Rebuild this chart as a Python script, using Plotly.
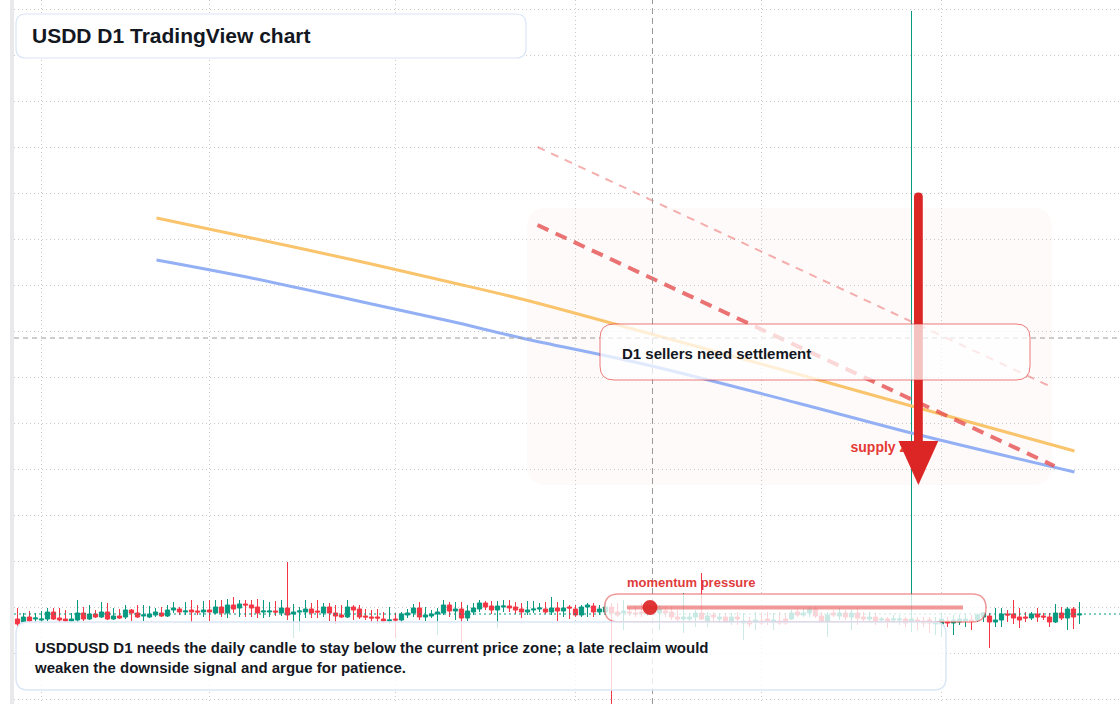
import pandas as pd
import plotly.graph_objects as go

# ---------------- data ----------------
first_day = "2025-01-28"
peg = 1.0
# daily OHLC expressed as deviation from the $1 peg, in basis points
open_bp = [-12, -15, -10, -12, -13, -12, -5, -11, -12, -14,
           -13, -6, -12, -7, -10, -5, -12, -9, -10, -3,
           -6, -9, -10, -8, -6, -9, -3, -2, -5, -3,
           -4, -5, -3, -6, 0, -6, 2, -1, 3, 2,
           0, -5, -5, -4, -6, -1, -7, -5, -5, -2,
           -4, -6, 0, -6, -8, -10, 0, -2, -9, -10,
           -10, -12, -14, -12, -13, -8, -6, -1, -10, -9,
           -7, -6, 2, -4, -2, -11, -5, -2, 4, 1,
           -3, 0, 1, 0, -2, -5, -3, -2, -2, -5,
           -1, -4, 0, -2, -8, 0, 1, -5, -5, 0,
           -5, -6, -5, -6, -5, -5, -3, -6, -4, -5,
           -10, -12, -12, -10, -6, -14, -8, -12, -10, -15,
           -10, -16, -14, -15, -14, -12, -15, -14, -12, -12,
           -5, -8, -6, -2, -9, -14, -6, -9, -6, -10,
           -6, -10, -12, -10, -13, -12, -13, -13, -12, -14,
           -13, -14, -13, -17, -17, -14, -16, -15, -14, -13,
           -13, -10, -9, -15, -13, -7, -7, -10, -10, -11,
           -7, -9, -10, -15, -6, -11, -2, -8]
high_bp = [-1, -6, -4, -6, -4, -1, -1, -1, -3, -6,
           7, 0, 2, -3, 5, 4, -1, -2, 2, -2,
           2, 2, 1, -1, 0, 2, 5, 0, 5, 7,
           2, 6, 7, 7, 7, 8, 10, 7, 7, 7,
           8, 7, 5, 6, 7, 45, 3, 0, 7, 4,
           7, 4, 4, 2, 2, 7, 2, 2, -2, -3,
           -2, -5, 0, -6, -5, -2, 3, 5, 0, -3,
           -1, 7, 5, 5, 5, 2, 4, 7, 6, 6,
           6, 7, 7, 5, 4, 6, 6, 4, 5, 10,
           5, 7, 2, 2, 2, 4, 4, 2, 4, 4,
           4, 7, 0, 1, 4, 3, 2, 2, 1, 0,
           -3, 14, -6, -3, 34, -5, -5, -6, -6, -6,
           -5, -6, -10, -5, -6, -5, -6, -5, -6, -3,
           -1, -1, 0, 0, -5, -5, -3, -1, -3, -2,
           -1, -5, -5, -6, -10, -10, -8, -8, -10, 596,
           -10, -10, -10, -10, -6, -10, -8, -8, -6, -8,
           -6, -5, -6, -1, -1, -3, 7, -1, -5, -5,
           -1, -6, -6, 3, 0, 0, 0, 5]
low_bp = [-21, -16, -15, -15, -15, -14, -13, -15, -15, -15,
          -15, -14, -13, -11, -11, -13, -13, -12, -12, -14,
          -11, -14, -11, -10, -10, -10, -6, -8, -8, -16,
          -8, -10, -14, -7, -10, -11, -6, -10, -10, -10,
          -11, -11, -10, -9, -9, -13, -31, -24, -11, -11,
          -11, -10, -14, -17, -11, -11, -13, -12, -13, -15,
          -17, -16, -17, -31, -15, -11, -10, -13, -14, -11,
          -28, -8, -10, -13, -36, -14, -8, -5, -3, -7,
          -21, -5, -5, -7, -11, -8, -6, -5, -7, -8,
          -14, -10, -12, -10, -10, -10, -10, -8, -8, -105,
          -10, -23, -9, -10, -10, -9, -8, -23, -10, -13,
          -15, -26, -15, -20, -13, -20, -15, -16, -16, -18,
          -18, -33, -20, -23, -18, -18, -23, -18, -18, -13,
          -10, -10, -10, -11, -16, -30, -10, -13, -13, -23,
          -18, -15, -15, -18, -16, -21, -15, -18, -20, -25,
          -23, -20, -26, -28, -30, -20, -28, -18, -20, -23,
          -15, -15, -41, -20, -20, -15, -17, -21, -15, -13,
          -15, -13, -20, -16, -13, -23, -22, -17]
close_bp = [-17, -10, -14, -11, -12, -5, -12, -13, -14, -12,
            -6, -12, -7, -10, -5, -12, -9, -11, -3, -6,
            -10, -8, -7, -5, -9, -3, -1, -5, -4, -5,
            -5, -3, -5, 0, -6, 2, -2, 3, 2, -1,
            -6, -4, -4, -5, -1, -8, -5, -4, -2, -6,
            -5, 0, -6, -9, -10, 0, -3, -10, -10, -11,
            -11, -14, -13, -13, -7, -6, -1, -10, -8, -7,
            -5, 2, -4, -2, -11, -4, -1, 4, 0, -3,
            1, 1, -1, -3, -5, -3, -2, -1, -5, -1,
            -4, -1, -1, -8, 0, 2, -5, -2, 0, -6,
            -8, -4, -6, -7, -6, -3, -5, -2, -6, -10,
            -12, -10, -10, -6, -12, -9, -10, -10, -15, -10,
            -12, -14, -17, -13, -16, -14, -13, -16, -16, -6,
            -8, -6, -2, -9, -14, -8, -8, -6, -10, -6,
            -11, -12, -10, -14, -12, -14, -12, -12, -16, -12,
            -14, -16, -16, -15, -12, -16, -13, -12, -12, -14,
            -8, -6, -15, -13, -7, -8, -11, -13, -11, -7,
            -10, -10, -15, -6, -11, -2, -10, -7]

# moving-average style overlays
ma_dates = ["2025-02-20 04:00", "2025-03-08", "2025-03-25", "2025-04-10", "2025-04-22",
            "2025-05-13", "2025-06-07", "2025-06-26", "2025-07-23 04:00"]
ma_fast = [1.0389, 1.0369, 1.0347, 1.0325, 1.0308, 1.0274, 1.0233, 1.0201, 1.0156]
ma_slow = [1.0347, 1.0329, 1.0307, 1.0286, 1.0269, 1.0242, 1.0204, 1.0174, 1.0135]

# descending trendlines
trend_main_dates = ["2025-04-24 16:00", "2025-07-19 20:00"]
trend_main = [1.0382, 1.0141]
trend_outer_dates = ["2025-04-24 16:00", "2025-07-19 08:00"]
trend_outer = [1.0460, 1.0220]

crosshair_time = "2025-05-13 20:00"
crosshair_price = 1.0269
supply_label_time = "2025-06-15 20:00"
supply_label_price = 1.0159

x_range = ["2025-01-27 10:00", "2025-07-30 18:00"]
y_range = [0.9903, 1.0607]

title_text = "USDD D1 TradingView chart"
callout_text = "D1 sellers need settlement"
momentum_text = "momentum pressure"
supply_text = "supply zone"
note_text = ("USDDUSD D1 needs the daily candle to stay below the current price zone; a late reclaim would"
             "<br>weaken the downside signal and argue for patience.")

# ---------------- helpers ----------------
W, H = 1120, 704
ML = 14
FONT = "Liberation Sans, Arial, sans-serif"
DARK = "#131722"
UP = "#089981"
DOWN = "#f23645"
GRID = "#c9c9c9"


def px(x):
    return (x - ML) / (W - ML)


def py(y):
    return 1 - y / H


def pt(x, y):
    return f"{px(x):.5f},{py(y):.5f}"


def rrect(x0, y0, x1, y1, r):
    return (f"M {pt(x0 + r, y0)} L {pt(x1 - r, y0)} Q {pt(x1, y0)} {pt(x1, y0 + r)} "
            f"L {pt(x1, y1 - r)} Q {pt(x1, y1)} {pt(x1 - r, y1)} "
            f"L {pt(x0 + r, y1)} Q {pt(x0, y1)} {pt(x0, y1 - r)} "
            f"L {pt(x0, y0 + r)} Q {pt(x0, y0)} {pt(x0 + r, y0)} Z")


dates = pd.date_range(first_day, periods=len(open_bp), freq="D")
o = [peg + v / 10000 for v in open_bp]
h = [peg + v / 10000 for v in high_bp]
l = [peg + v / 10000 for v in low_bp]
c = [peg + v / 10000 for v in close_bp]

fig = go.Figure()
fig.add_trace(go.Candlestick(
    x=dates, open=o, high=h, low=l, close=c,
    increasing=dict(line=dict(color=UP, width=1), fillcolor=UP),
    decreasing=dict(line=dict(color=DOWN, width=1), fillcolor=DOWN),
    whiskerwidth=0, hoverinfo="skip", showlegend=False))

fig.add_trace(go.Scatter(x=ma_dates, y=ma_fast, mode="lines", hoverinfo="skip",
                         line=dict(color="#f9c46c", width=3, shape="spline"), showlegend=False))
fig.add_trace(go.Scatter(x=ma_dates, y=ma_slow, mode="lines", hoverinfo="skip",
                         line=dict(color="#93b0f5", width=3, shape="spline"), showlegend=False))
fig.add_trace(go.Scatter(x=trend_outer_dates, y=trend_outer, mode="lines", hoverinfo="skip",
                         line=dict(color="rgba(235,110,110,0.55)", width=2, dash="8px,7px"),
                         showlegend=False))
fig.add_trace(go.Scatter(x=trend_main_dates, y=trend_main, mode="lines", hoverinfo="skip",
                         line=dict(color="rgba(230,80,80,0.8)", width=4, dash="12px,8px"),
                         showlegend=False))
fig.add_trace(go.Scatter(x=[supply_label_time], y=[supply_label_price], mode="text",
                         text=[supply_text], textposition="middle right", hoverinfo="skip",
                         textfont=dict(family=FONT, size=14, color="#e53935", weight="bold"),
                         showlegend=False))

shapes = []
# faint zone behind everything
shapes.append(dict(type="path", xref="paper", yref="paper", layer="below",
                   path=rrect(527, 208, 1052, 485, 20),
                   fillcolor="rgba(250,222,210,0.14)", line=dict(width=0)))
# crosshair
shapes.append(dict(type="line", xref="x", yref="paper", x0=crosshair_time, x1=crosshair_time,
                   y0=0, y1=1, layer="above", line=dict(color="#9a9a9a", width=1, dash="6px,4px")))
shapes.append(dict(type="line", xref="paper", yref="y", x0=0, x1=1, y0=crosshair_price,
                   y1=crosshair_price, layer="above", line=dict(color="#9a9a9a", width=1, dash="5px,4px")))
# last price line
shapes.append(dict(type="line", xref="paper", yref="y", x0=0, x1=1, y0=c[-1], y1=c[-1],
                   layer="above", line=dict(color=UP, width=1, dash="2px,3px")))
# arrow
ax0, ax1 = 914.0, 922.8
axc = (ax0 + ax1) / 2
shapes.append(dict(type="path", xref="paper", yref="paper", layer="above",
                   path=(f"M {pt(ax0, 444)} L {pt(ax0, 197)} Q {pt(ax0, 192.6)} {pt(axc, 192.6)} "
                         f"Q {pt(ax1, 192.6)} {pt(ax1, 197)} L {pt(ax1, 444)} Z"),
                   fillcolor="#dc2626", line=dict(width=0)))
shapes.append(dict(type="path", xref="paper", yref="paper", layer="above",
                   path=f"M {pt(898.5, 441)} L {pt(938.3, 441)} L {pt(axc, 485)} Z",
                   fillcolor="#dc2626", line=dict(width=0)))
# callout box
shapes.append(dict(type="path", xref="paper", yref="paper", layer="above",
                   path=rrect(600, 324, 1030, 380, 14),
                   fillcolor="rgba(255,255,255,0.72)", line=dict(color="rgba(220,38,38,0.6)", width=1)))
# momentum pill
shapes.append(dict(type="path", xref="paper", yref="paper", layer="above",
                   path=rrect(604.5, 594, 986, 622, 14),
                   fillcolor="rgba(255,255,255,0.78)", line=dict(color="rgba(228,70,70,0.55)", width=1.5)))
shapes.append(dict(type="line", xref="paper", yref="paper", layer="above",
                   x0=px(627), x1=px(963), y0=py(607.5), y1=py(607.5),
                   line=dict(color="rgba(232,85,85,0.6)", width=4)))
shapes.append(dict(type="circle", xref="paper", yref="paper", layer="above",
                   x0=px(642.5), x1=px(657.5), y0=py(600), y1=py(615),
                   fillcolor="rgba(220,38,38,0.92)", line=dict(width=0)))
# note box
shapes.append(dict(type="path", xref="paper", yref="paper", layer="above",
                   path=rrect(16, 622, 946, 690, 12),
                   fillcolor="rgba(255,255,255,0.8)", line=dict(color="#dbe6f6", width=1.5)))
# title box
shapes.append(dict(type="path", xref="paper", yref="paper", layer="above",
                   path=rrect(16, 14, 526, 58, 10),
                   fillcolor="#ffffff", line=dict(color="#dbe6f6", width=1.2)))
# left strip
shapes.append(dict(type="rect", xref="paper", yref="paper", layer="above",
                   x0=px(10), x1=px(14), y0=0, y1=1, fillcolor="#e9e9ec", line=dict(width=0)))

annotations = [
    dict(text=title_text, x=px(30), y=py(35.5), xref="paper", yref="paper", xanchor="left",
         yanchor="middle", showarrow=False,
         font=dict(family=FONT, size=21, color=DARK, weight="bold")),
    dict(text=callout_text, x=px(620), y=py(353.5), xref="paper", yref="paper", xanchor="left",
         yanchor="middle", showarrow=False,
         font=dict(family=FONT, size=15, color=DARK, weight="bold")),
    dict(text=momentum_text, x=px(625), y=py(582), xref="paper", yref="paper", xanchor="left",
         yanchor="middle", showarrow=False,
         font=dict(family=FONT, size=13, color="#e03c3c", weight="bold")),
    dict(text=note_text, x=px(32), y=py(657.5), xref="paper", yref="paper", xanchor="left",
         yanchor="middle", align="left", showarrow=False,
         font=dict(family=FONT, size=15, color=DARK, weight="bold")),
]

fig.update_layout(
    width=W, height=H,
    margin=dict(l=ML, r=0, t=0, b=0),
    paper_bgcolor="#ffffff", plot_bgcolor="#ffffff",
    showlegend=False,
    boxgap=0.3, boxgroupgap=0,
    shapes=shapes, annotations=annotations,
    xaxis=dict(type="date", range=x_range, rangeslider=dict(visible=False),
               showticklabels=False, ticks="", showline=False, zeroline=False,
               showgrid=True, gridcolor=GRID, griddash="1px,3px", gridwidth=1,
               tick0="2025-02-01", dtick="M1"),
    yaxis=dict(range=y_range, showticklabels=False, ticks="", showline=False, zeroline=False,
               showgrid=True, gridcolor=GRID, griddash="1px,3px", gridwidth=1,
               tick0=1.0, dtick=0.0046),
    hovermode=False,
)

fig.write_html("out.html")
